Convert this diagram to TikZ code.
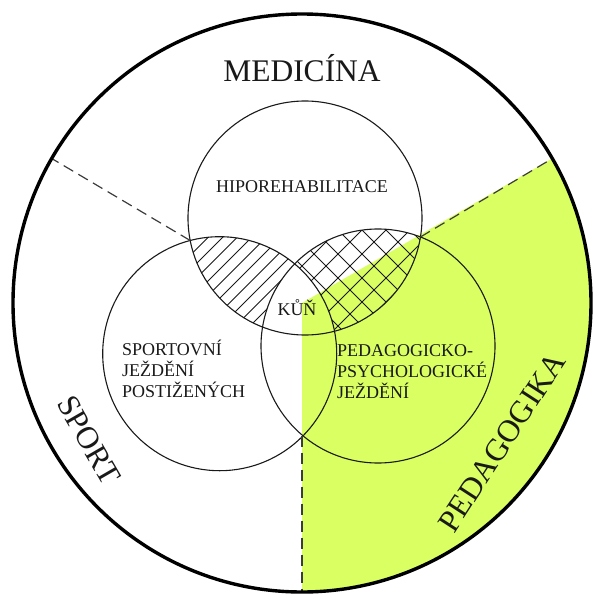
\documentclass[tikz,border=0pt]{standalone}
\usepackage{fontspec}
\setmainfont{Liberation Serif}
\definecolor{limeg}{RGB}{218,255,98}
\definecolor{ink}{RGB}{25,25,25}
\begin{document}
\begin{tikzpicture}[x=1pt,y=-1pt,
  setcircle/.style={draw=ink,line width=1.1pt},
  outer/.style={draw=black,line width=3.4pt},
  divider/.style={draw=ink!85,line width=1.2pt,dash pattern=on 11pt off 6pt},
  hatch/.style={draw=ink,line width=0.9pt},
  biglabel/.style={text=ink,font=\fontsize{31.5}{35}\selectfont,inner sep=0pt},
  smalllabel/.style={text=ink,font=\fontsize{18}{21}\selectfont,inner sep=0pt},
  lineleft/.style={smalllabel,anchor=base west}]
\useasboundingbox (0,0) rectangle (592,594);
\coordinate (O) at (302,303);
\coordinate (T) at (305,218);
\coordinate (L) at (219.7,353.7);
\coordinate (R) at (378,346);
\coordinate (ITL) at (190.2,240.5);
\coordinate (ITR) at (420.4,237);
\coordinate (ILR) at (302,435.5);
\coordinate (E150) at (51.7,158.5);
\coordinate (E30) at (552.3,158.5);
\coordinate (E270) at (302,592);
% green sector
\begin{scope}
  \clip (O) circle[radius=289pt];
  \fill[limeg] (O) -- (1055,-132) -- (1055,900) -- (302,900) -- cycle;
\end{scope}
% single hatch: top & left, not right
\begin{scope}[even odd rule]
  \clip (T) circle[radius=117pt];
  \clip (L) circle[radius=117pt];
  \clip (0,0) rectangle (600,600) (R) circle[radius=117pt];
  \foreach \c in {402,416.5,...,720} \draw[hatch] (\c,0) -- (0,\c);
\end{scope}
% cross hatch: top & right, not left
\begin{scope}[even odd rule]
  \clip (T) circle[radius=117pt];
  \clip (R) circle[radius=117pt];
  \clip (0,0) rectangle (600,600) (L) circle[radius=117pt];
  \foreach \c in {400,424,...,900} \draw[hatch] (\c,0) -- (0,\c);
  \foreach \c in {-300,-276,...,400} \draw[hatch] (\c,0) -- ({\c+600},600);
\end{scope}
% circles
\draw[setcircle] (T) circle[radius=117pt];
\draw[setcircle] (L) circle[radius=117pt];
\draw[setcircle] (R) circle[radius=117pt];
% dividers
\draw[divider] (ITL) -- (E150);
\draw[divider] (ITR) -- (E30);
\draw[divider] (ILR) -- (E270);
% outer circle
\draw[outer] (O) circle[radius=289pt];
% labels
\node[biglabel] (med) at (302,68) {MEDICÍNA};
\node[biglabel,rotate=-60] (sport) at (89,440) {SPORT};
\node[biglabel,rotate=57] (ped) at (502,442) {PEDAGOGIKA};
\node[smalllabel] (hipo) at (302,187) {HIPOREHABILITACE};
\node[smalllabel] (kun) at (297,308) {KŮŇ};
\node[lineleft] (sp1) at (122,355) {SPORTOVNÍ};
\node[lineleft] (sp2) at (122,376) {JEŽDĚNÍ};
\node[lineleft] (sp3) at (122,397) {POSTIŽENÝCH};
\node[lineleft] (pp1) at (337,356) {PEDAGOGICKO-};
\node[lineleft] (pp2) at (337,377) {PSYCHOLOGICKÉ};
\node[lineleft] (pp3) at (337,398) {JEŽDĚNÍ};
\end{tikzpicture}
\end{document}
